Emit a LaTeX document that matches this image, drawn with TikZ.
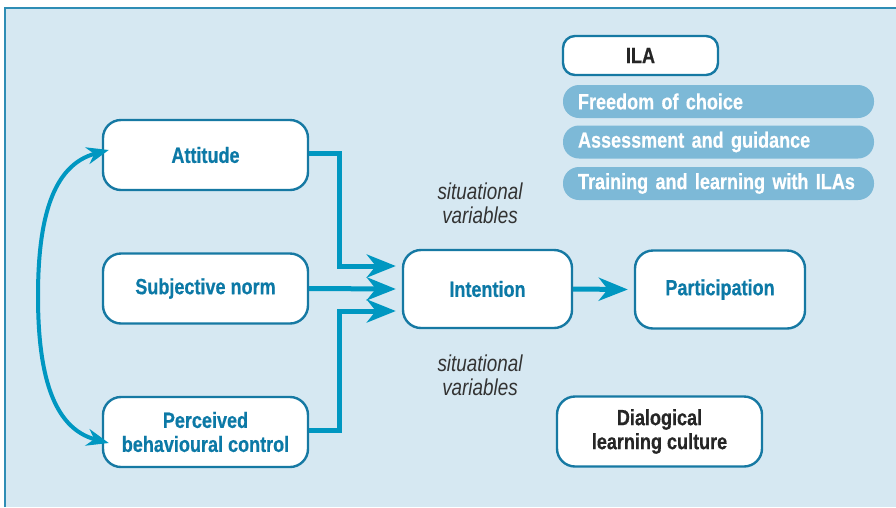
\documentclass[tikz,border=0pt]{standalone}
\usepackage{fontspec}
\setmainfont{Liberation Sans}[FakeStretch=0.82, BoldFeatures={FakeBold=0.5}]
\usetikzlibrary{arrows.meta}
\definecolor{bgblue}{HTML}{D6E8F2}
\definecolor{framecol}{HTML}{2E8DB5}
\definecolor{boxline}{HTML}{1679A3}
\definecolor{arrowcol}{HTML}{0097C1}
\definecolor{tealtext}{HTML}{0C79A6}
\definecolor{pillfill}{HTML}{7DB9D7}
\definecolor{sitgray}{HTML}{333333}
\begin{document}
\begin{tikzpicture}[x=1pt,y=-1pt,
  box/.style={draw=boxline, line width=2.4pt, fill=white, rounded corners=18pt,
    minimum width=205pt, minimum height=70pt, align=center, inner sep=0pt,
    font=\fontsize{22}{24}\selectfont\bfseries},
  bluebox/.style={box, text=tealtext},
  blackbox/.style={box, text=black!85},
  pill/.style={fill=pillfill, rounded corners=16pt, minimum height=33pt,
    text width=281pt, inner xsep=15pt, inner ysep=0pt, align=left, text=white,
    font=\fontsize{22}{24}\selectfont\bfseries},
  sitvar/.style={align=center, text=sitgray, font=\fontsize{23}{24}\selectfont\itshape},
  conn/.style={draw=arrowcol, line width=5pt, -{Stealth[length=29pt,width=23pt,inset=9pt]}},
  curv/.style={draw=arrowcol, line width=4pt, {Stealth[length=22pt,width=17pt,inset=7pt]}-{Stealth[length=22pt,width=17pt,inset=7pt]}}
]
\useasboundingbox (0,0) rectangle (896,507);
\fill[bgblue] (5,8) rectangle (896,507);
\draw[framecol, line width=1.5pt] (5,507) -- (5,8) -- (896,8);

\node[bluebox] (att) at (205.5,155) {Attitude};
\node[bluebox] (sn) at (205.5,288.5) {Subjective norm};
\node[bluebox] (pbc) at (205.5,432) {Perceived\\behavioural control};
\node[bluebox, minimum width=169pt, minimum height=78pt] (int) at (487.5,289) {Intention};
\node[bluebox, minimum width=170pt, minimum height=78pt] (par) at (720,289.5) {Participation};
\node[blackbox, minimum width=155pt, minimum height=39pt, rounded corners=12pt] (ila) at (640.5,55.5) {ILA};
\node[pill] (p1) at (718.5,101.5) {Freedom of choice};
\node[pill] (p2) at (718.5,142) {Assessment and guidance};
\node[pill] (p3) at (718.5,183.5) {Training and learning with ILAs};
\node[blackbox] (dlc) at (659.5,431.5) {Dialogical\\learning culture};

\node[sitvar] (sv1) at (480,203) {situational\\variables};
\node[sitvar] (sv2) at (480,375) {situational\\variables};

\coordinate (i1) at ([xshift=-6pt,yshift=23pt]int.west);
\coordinate (i2) at ([xshift=-6pt]int.west);
\coordinate (i3) at ([xshift=-6pt,yshift=-22pt]int.west);
\draw[conn] ([yshift=2pt]att.east) -- ++(30,0) |- (i1);
\draw[conn] (sn.east) -- (i2);
\draw[conn] ([yshift=2pt]pbc.east) -- ++(30,0) |- (i3);
\draw[conn] (int.east) -- ([xshift=-6pt]par.west);

\coordinate (ca) at ([xshift=7pt,yshift=5pt]att.west);
\coordinate (cb) at ([xshift=7pt,yshift=-11pt]pbc.west);
\draw[curv] (ca) .. controls (52,165) and (38,220) .. (38,296) .. controls (38,372) and (52,428) .. (cb);
\end{tikzpicture}
\end{document}
